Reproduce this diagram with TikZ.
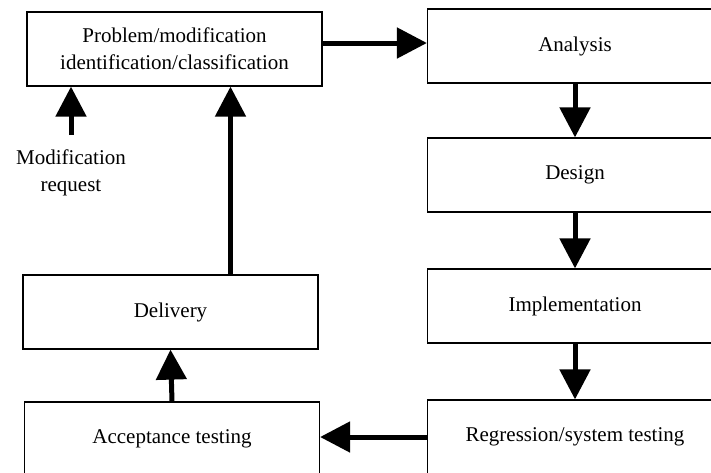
\documentclass[tikz,border=0pt]{standalone}
\usepackage{fontspec}
\setmainfont{Liberation Serif}
\usetikzlibrary{arrows.meta}
\tikzset{
  box/.style={draw, line width=1.2pt, minimum width=295pt, minimum height=74pt, inner sep=0pt, align=center,
    font=\fontsize{21}{27}\selectfont},
  arr/.style={line width=5pt, -{Triangle[length=30pt, width=30pt]}},
  lbl/.style={align=center, inner sep=0pt, font=\fontsize{21}{27}\selectfont}
}
\begin{document}
\begin{tikzpicture}[x=1pt, y=-1pt]
\useasboundingbox (0,0) rectangle (711,472);
\clip (0,0) rectangle (711,472);
\node[box] (prob) at (174.5,49) {Problem/modification\\identification/classification};
\node[box] (ana) at (575,46) {Analysis};
\node[box] (des) at (575,175) {Design};
\node[box] (imp) at (575,306) {Implementation};
\node[box] (reg) at (575,437) {Regression/system testing};
\node[box] (del) at (170.5,312) {Delivery};
\node[box] (acc) at (172,439) {Acceptance testing};
\node[lbl] (req) at (71,173) {Modification\\request};
\coordinate (rq) at (71,135);
\draw[arr] ([yshift=6pt]prob.east) coordinate (s1) -- (s1 -| ana.west);
\draw[arr] (ana.south) -- (des.north);
\draw[arr] (des.south) -- (imp.north);
\draw[arr] (imp.south) -- (reg.north);
\draw[arr] (reg.west) -- (reg.west -| acc.east);
\draw[arr] (acc.north) -- (del.south);
\draw[arr] ([xshift=60pt]del.north) coordinate (s2) -- (s2 |- prob.south);
\draw[arr] (rq) -- (rq |- prob.south);
\end{tikzpicture}
\end{document}
